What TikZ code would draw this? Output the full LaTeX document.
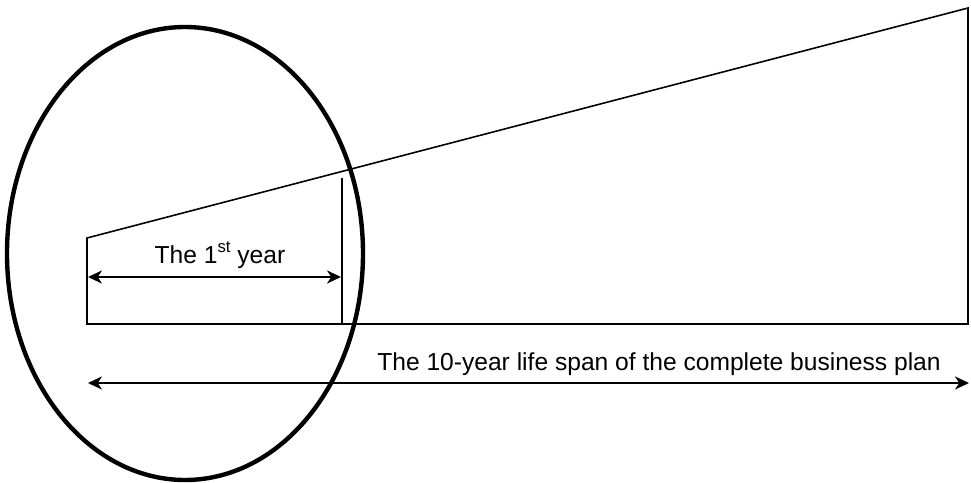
\documentclass[tikz,border=0pt]{standalone}
\usepackage{fontspec}
\setmainfont{Liberation Sans}
\usetikzlibrary{arrows.meta}

\begin{document}
\begin{tikzpicture}[x=0.02cm, y=-0.02cm, color=black,
    >={Stealth[length=8pt, width=7.5pt, inset=2.5pt]},
    font=\fontsize{14}{16}\selectfont]
  \useasboundingbox (0,0) rectangle (971,483);
  % Outline of the plan over the years
  \coordinate (bl) at (87,324);
  \coordinate (tl) at (87,238);
  \coordinate (tr) at (968,8);
  \coordinate (br) at (968,324);
  \draw[line width=0.9pt] (bl) -- (tl) -- (tr) -- (br) -- cycle;
  % End of the first year
  \coordinate (yb) at (342,324);
  \coordinate (yt) at (342,178);
  \draw[line width=0.9pt] (yb) -- (yt);
  % First year span
  \coordinate (fa) at (88,277);
  \coordinate (fb) at (341,277);
  \draw[<->, line width=0.9pt] (fa) -- (fb);
  \node[anchor=base, inner sep=0pt] (first) at (220,263)
    {The 1\raisebox{0.42em}{\fontsize{9.5}{10}\selectfont st} year};
  % Whole life span
  \coordinate (la) at (88,383);
  \coordinate (lb) at (969,383);
  \draw[<->, line width=0.9pt] (la) -- (lb);
  \node[anchor=base west, inner sep=0pt] (life) at (377,370)
    {The 10-year life span of the complete business plan};
  % Circled first year
  \draw[line width=2.5pt] (185,253.5) ellipse [x radius=178, y radius=226.5];
\end{tikzpicture}
\end{document}
